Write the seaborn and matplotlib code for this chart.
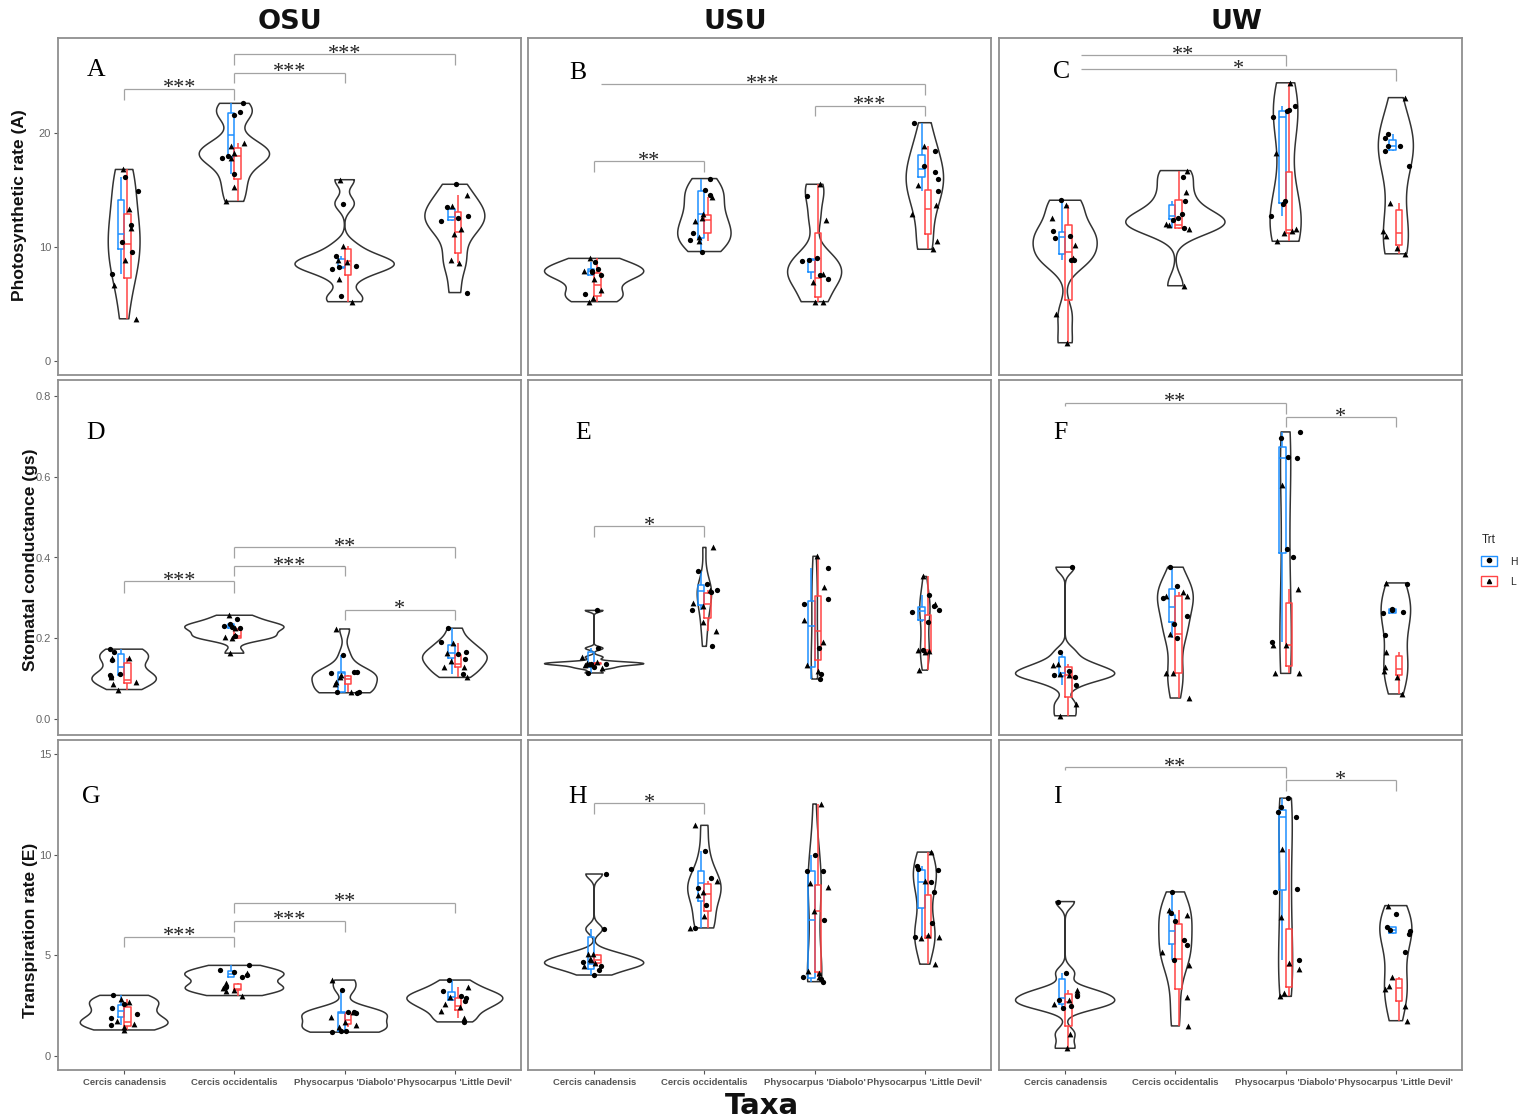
import numpy as np
import pandas as pd
import matplotlib
matplotlib.use("Agg")
import matplotlib.pyplot as plt
import seaborn as sns
from matplotlib import font_manager
from matplotlib.patches import Rectangle
from matplotlib.lines import Line2D
from matplotlib.legend_handler import HandlerTuple

np.random.seed(7)

# ---------------- data ----------------
TAXA = ["Cercis canadensis", "Cercis occidentalis",
        "Physocarpus 'Diabolo'", "Physocarpus 'Little Devil'"]
TRT = ["H", "L"]
SITES = ["OSU", "USU", "UW"]
YLABELS = ["Photosynthetic rate (A)", "Stomatal conductance (gs)", "Transpiration rate (E)"]
PANEL_LETTERS = ["A", "B", "C", "D", "E", "F", "G", "H", "I"]

# Photosynthetic rate (A)
A_H = [[7.6, 9.6, 10.4, 11.9, 14.9, 16.1],
       [16.4, 17.8, 18.0, 21.6, 21.8, 22.6],
       [5.7, 8.1, 8.2, 8.3, 9.2, 13.8],
       [6.0, 12.3, 12.5, 12.7, 13.5, 15.5]]
A_L = [[3.7, 6.7, 8.9, 11.7, 13.3, 16.8],
       [14.0, 15.3, 17.8, 18.2, 18.9, 19.1],
       [5.2, 7.2, 8.7, 8.9, 10.1, 15.9],
       [8.6, 8.9, 11.1, 11.6, 13.6, 14.6]]
B_H = [[5.9, 7.5, 7.8, 7.9, 8.1, 8.7],
       [9.6, 10.6, 11.2, 14.6, 15.0, 16.0],
       [7.2, 7.5, 8.8, 8.9, 9.0, 14.5],
       [14.9, 16.0, 16.6, 17.1, 18.4, 20.9]]
B_L = [[5.2, 5.5, 6.2, 7.2, 7.9, 9.0],
       [10.5, 10.9, 12.3, 12.5, 12.9, 14.4],
       [5.2, 5.2, 6.9, 7.6, 12.4, 15.5],
       [9.8, 10.5, 12.9, 13.7, 15.4, 18.9]]
C_H = [[8.9, 8.9, 10.8, 11.0, 11.4, 14.1],
       [11.7, 12.4, 12.5, 12.9, 14.0, 16.1],
       [12.7, 13.8, 14.0, 21.4, 21.9, 22.0, 22.4],
       [17.1, 18.4, 18.9, 18.9, 19.6, 19.9]]
C_L = [[1.6, 4.1, 9.0, 10.2, 12.5, 13.7],
       [6.6, 11.6, 11.9, 12.0, 14.8, 16.7],
       [10.5, 11.2, 11.4, 11.6, 18.2, 24.4],
       [9.4, 9.9, 11.0, 11.4, 13.9, 23.1]]
# Stomatal conductance (gs)
D_H = [[0.103, 0.108, 0.111, 0.145, 0.167, 0.173],
       [0.205, 0.226, 0.228, 0.230, 0.236, 0.247],
       [0.065, 0.066, 0.068, 0.113, 0.116, 0.117, 0.159],
       [0.112, 0.148, 0.160, 0.165, 0.191, 0.225]]
D_L = [[0.073, 0.087, 0.091, 0.103, 0.152, 0.152],
       [0.163, 0.200, 0.203, 0.207, 0.225, 0.257],
       [0.068, 0.086, 0.092, 0.104, 0.109, 0.223],
       [0.103, 0.129, 0.129, 0.144, 0.163, 0.188]]
E_H = [[0.114, 0.128, 0.136, 0.137, 0.175, 0.269],
       [0.180, 0.270, 0.315, 0.320, 0.335, 0.367],
       [0.099, 0.112, 0.175, 0.285, 0.296, 0.374],
       [0.172, 0.240, 0.264, 0.269, 0.280, 0.306]]
E_L = [[0.126, 0.135, 0.137, 0.139, 0.140, 0.153],
       [0.219, 0.240, 0.280, 0.288, 0.320, 0.425],
       [0.120, 0.133, 0.190, 0.245, 0.326, 0.403],
       [0.121, 0.166, 0.168, 0.172, 0.285, 0.353]]
F_H = [[0.084, 0.104, 0.110, 0.120, 0.166, 0.376],
       [0.200, 0.235, 0.256, 0.300, 0.330, 0.376],
       [0.191, 0.401, 0.420, 0.646, 0.650, 0.695, 0.711],
       [0.208, 0.263, 0.266, 0.270, 0.272, 0.335]]
F_L = [[0.008, 0.038, 0.108, 0.112, 0.135, 0.137],
       [0.052, 0.113, 0.113, 0.211, 0.304, 0.304, 0.315],
       [0.113, 0.115, 0.184, 0.184, 0.322, 0.579],
       [0.062, 0.104, 0.120, 0.130, 0.166, 0.337]]
# Transpiration rate (E)
G_H = [[1.56, 1.87, 2.10, 2.38, 2.60, 3.01],
       [3.41, 3.90, 4.00, 4.16, 4.27, 4.50],
       [1.18, 1.24, 1.26, 2.12, 2.17, 2.20, 3.30],
       [1.69, 2.73, 2.90, 3.00, 3.25, 3.77]]
G_L = [[1.29, 1.46, 1.59, 1.75, 2.67, 2.85],
       [3.00, 3.25, 3.30, 3.38, 3.64, 4.10],
       [1.42, 1.54, 1.69, 1.92, 2.20, 3.77],
       [1.90, 2.25, 2.43, 2.57, 2.95, 3.41]]
H_H = [[4.02, 4.25, 4.45, 4.65, 6.30, 9.04],
       [6.36, 7.50, 8.34, 8.84, 9.30, 10.17],
       [3.69, 3.82, 3.92, 6.75, 9.17, 9.20, 10.00],
       [5.91, 6.61, 8.13, 8.66, 9.22, 9.30, 9.42]]
H_L = [[4.49, 4.60, 4.75, 4.80, 5.08, 5.08],
       [6.36, 6.94, 8.00, 8.13, 8.68, 11.46],
       [3.90, 4.12, 4.20, 7.19, 8.40, 8.60, 12.52],
       [4.56, 5.86, 5.90, 6.00, 8.68, 10.13]]
I_H = [[2.38, 2.50, 2.80, 3.00, 4.12, 7.67],
       [4.77, 5.50, 5.76, 6.70, 7.10, 8.15],
       [4.78, 8.15, 8.30, 11.85, 12.10, 12.38, 12.81],
       [5.15, 6.08, 6.20, 6.28, 6.42, 7.07]]
I_L = [[0.38, 1.11, 2.60, 2.78, 3.20, 3.26],
       [1.49, 2.91, 4.50, 5.15, 7.02, 7.25],
       [2.96, 3.13, 4.30, 4.60, 6.90, 10.30],
       [1.75, 2.50, 3.35, 3.45, 3.92, 7.47]]

# significance brackets: (x_start, x_end, line_y, left_tip_y, right_tip_y, label)
BR_A = [(0, 1, 23.9, 22.9, 22.9, "***"), (1, 2, 25.3, 24.4, 24.4, "***"),
        (1, 3, 26.9, 26.0, 26.0, "***")]
BR_B = [(0, 1, 17.5, 16.6, 16.6, "**"), (2, 3, 22.4, 21.5, 21.5, "***"),
        (0.06, 3, 24.3, None, 23.3, "***")]
BR_C = [(0.14, 2, 26.8, None, 25.9, "**"), (0.14, 3, 25.6, None, 24.6, "*")]
BR_D = [(0, 1, 0.341, 0.313, 0.313, "***"), (1, 2, 0.378, 0.353, 0.353, "***"),
        (1, 3, 0.425, 0.398, 0.398, "**"), (2, 3, 0.271, 0.246, 0.246, "*")]
BR_E = [(0, 1, 0.477, 0.450, 0.450, "*")]
BR_F = [(0, 2, 0.783, 0.774, 0.755, "**"), (2, 3, 0.748, 0.722, 0.722, "*")]
BR_G = [(0, 1, 5.93, 5.40, 5.40, "***"), (1, 2, 6.71, 6.18, 6.18, "***"),
        (1, 3, 7.62, 7.09, 7.09, "**")]
BR_H = [(0, 1, 12.57, 12.04, 12.04, "*")]
BR_I = [(0, 2, 14.34, 14.20, 13.80, "**"), (2, 3, 13.69, 13.15, 13.15, "*")]

Y_TICKS = [[0, 10, 20], [0.0, 0.2, 0.4, 0.6, 0.8], [0, 5, 10, 15]]
Y_TICKLABELS = [["0", "10", "20"], ["0.0", "0.2", "0.4", "0.6", "0.8"], ["0", "5", "10", "15"]]

PANELS = [(A_H, A_L, BR_A), (B_H, B_L, BR_B), (C_H, C_L, BR_C),
          (D_H, D_L, BR_D), (E_H, E_L, BR_E), (F_H, F_L, BR_F),
          (G_H, G_L, BR_G), (H_H, H_L, BR_H), (I_H, I_L, BR_I)]

# ---------------- style ----------------
sns.set_style("white")
names = {f.name for f in font_manager.fontManager.ttflist}
plt.rcParams["font.family"] = ["Liberation Sans", "DejaVu Sans"]
NARROW = "Liberation Sans Narrow" in names
YLAB_FONT = ["Liberation Sans Narrow", "Liberation Sans"] if NARROW else ["Liberation Sans", "DejaVu Sans"]
YLAB_SIZE = 15 if NARROW else 12.5
SERIF = ["Liberation Serif", "DejaVu Serif"]

BLUE = "#1E90FF"
RED = "#FF4545"
PAL = {"H": BLUE, "L": RED}
FRAME = "#8f8f8f"

W, HP = 1519, 1120
COL_X = [(58, 521), (528, 991), (999, 1462)]
ROW_Y = [(38, 375), (380, 735), (740, 1070)]
YLIMS = [(-1.23, 28.33), (-0.0396, 0.8396), (-0.70, 15.70)]
LETTER_POS = [(0.082, 0.905), (0.108, 0.896), (0.136, 0.900),
              (0.082, 0.850), (0.119, 0.850), (0.132, 0.850),
              (0.073, 0.827), (0.108, 0.827), (0.125, 0.827)]


def nrd0(kde):
    """R's default bandwidth rule (bw.nrd0), as a gaussian_kde factor."""
    x = np.asarray(kde.dataset).ravel()
    sd = x.std(ddof=1)
    q75, q25 = np.percentile(x, [75, 25])
    lo = min(sd, (q75 - q25) / 1.34)
    if lo <= 0:
        lo = sd if sd > 0 else 1.0
    bw = 0.9 * lo * len(x) ** -0.2
    return bw / sd


fig = plt.figure(figsize=(W / 100, HP / 100), dpi=100)


def make_df(hv, lv):
    rows = []
    for t, vals in zip(TAXA, hv):
        rows += [(t, "H", v) for v in vals]
    for t, vals in zip(TAXA, lv):
        rows += [(t, "L", v) for v in vals]
    return pd.DataFrame(rows, columns=["Taxa", "Trt", "value"])


def bracket(ax, x1, x2, y, yl, yr, label):
    kw = dict(color="#a3a3a3", lw=0.9, solid_capstyle="butt", zorder=2)
    if yl is not None:
        ax.plot([x1, x1], [yl, y], **kw)
    ax.plot([x1, x2], [y, y], **kw)
    if yr is not None:
        ax.plot([x2, x2], [y, yr], **kw)
    ax.annotate(label, xy=((x1 + x2) / 2, y), xytext=(0, -3.3),
                textcoords="offset points", ha="center", va="baseline",
                fontfamily=SERIF, fontsize=16, color="#222222")


for idx, (hv, lv, brs) in enumerate(PANELS):
    r, c = divmod(idx, 3)
    x0, x1 = COL_X[c]
    y0, y1 = ROW_Y[r]
    ax = fig.add_axes([x0 / W, 1 - y1 / HP, (x1 - x0) / W, (y1 - y0) / HP])
    df = make_df(hv, lv)

    sns.violinplot(data=df, x="Taxa", y="value", order=TAXA, cut=0, inner=None,
                   fill=False, color="#333333", linewidth=1.1, density_norm="area",
                   width=0.9, bw_method=nrd0, gridsize=200, ax=ax)
    sns.boxplot(data=df, x="Taxa", y="value", hue="Trt", order=TAXA, hue_order=TRT,
                palette=PAL, fill=False, width=0.12, showfliers=False, linewidth=1.1,
                dodge=True, gap=0, legend=False, ax=ax, capprops={"visible": False})
    sns.stripplot(data=df[df["Trt"] == "H"], x="Taxa", y="value", order=TAXA,
                  color="black", marker="o", size=3.8, jitter=0.13, ax=ax, zorder=4)
    sns.stripplot(data=df[df["Trt"] == "L"], x="Taxa", y="value", order=TAXA,
                  color="black", marker="^", size=4.2, jitter=0.13, ax=ax, zorder=4)

    for b in brs:
        bracket(ax, *b)

    ax.set_xlim(-0.6, 3.6)
    ax.set_ylim(*YLIMS[r])
    ax.set_xlabel("")
    ax.set_ylabel("")
    for s in ax.spines.values():
        s.set_visible(True)
        s.set_color(FRAME)
        s.set_linewidth(1.3)

    if c == 0:
        ax.set_yticks(Y_TICKS[r])
        ax.set_yticklabels(Y_TICKLABELS[r])
        ax.tick_params(axis="y", left=True, length=3, width=0.8, color="#555555",
                       labelsize=8, labelcolor="#666666", pad=2)
    else:
        ax.tick_params(axis="y", left=False, labelleft=False)

    if r == 2:
        ax.set_xticks(range(4))
        ax.set_xticklabels(TAXA)
        ax.tick_params(axis="x", bottom=True, length=3, width=0.8, color="#555555",
                       labelsize=6.8, labelcolor="#555555", pad=3)
        for lbl in ax.get_xticklabels():
            lbl.set_fontweight("bold")
    else:
        ax.tick_params(axis="x", bottom=False, labelbottom=False)

    lx, ly = LETTER_POS[idx]
    ax.text(lx, ly, PANEL_LETTERS[idx], transform=ax.transAxes, ha="center",
            va="center", fontfamily=SERIF, fontsize=18.5, color="black")

# column titles
for cx, s in zip([290, 735, 1236], SITES):
    fig.text(cx / W, 1 - 22 / HP, s, ha="center", va="center", fontweight="bold",
             fontsize=19.5, fontfamily=["DejaVu Sans"], color="#111111")

# y labels
for (lx, ly), s in zip([(20, 205), (30, 560), (30, 930)], YLABELS):
    fig.text(lx / W, 1 - ly / HP, s, rotation=90, ha="center", va="center",
             fontweight="bold", fontfamily=YLAB_FONT, fontsize=YLAB_SIZE, color="#111111")

fig.text(762 / W, 1 - 1106 / HP, "Taxa", ha="center", va="center", fontweight="bold",
         fontsize=21, fontfamily=["DejaVu Sans"], color="#111111")


# legend
def handle(col, mk):
    return (Line2D([], [], color=col, lw=1.0),
            Rectangle((0, 0), 1, 1, facecolor="white", edgecolor=col, lw=1.0),
            Line2D([], [], marker=mk, color="black", ls="", ms=3))


leg = fig.legend(handles=[handle(BLUE, "o"), handle(RED, "^")], labels=TRT, title="Trt",
                 loc="upper left", bbox_to_anchor=(1472 / W, 1 - 525 / HP), frameon=False,
                 fontsize=7.5, title_fontsize=8.5, handlelength=1.5, handleheight=1.0,
                 labelspacing=0.95, handletextpad=1.3,
                 alignment="left", handler_map={tuple: HandlerTuple(ndivide=1, pad=0)})

fig.savefig("out.png", dpi=100)
